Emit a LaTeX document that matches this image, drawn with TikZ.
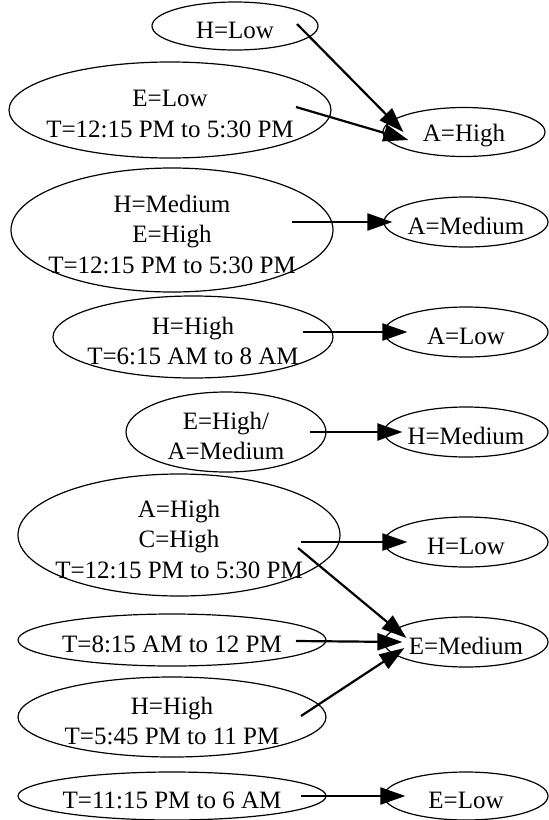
\documentclass[tikz,border=0pt]{standalone}
\usepackage{fontspec}
\setmainfont{Liberation Serif}
\usetikzlibrary{arrows.meta,shapes.geometric,calc}

\tikzset{
  state/.style={draw, ellipse, line width=1.2pt, inner sep=0pt},
  txt/.style={align=center, inner sep=0pt, font=\fontsize{25}{30.5}\selectfont, yshift=-4pt},
  edge/.style={line width=2.2pt, -{Triangle[length=25pt,width=17pt]}},
}

\begin{document}
\begin{tikzpicture}[x=1pt,y=-1pt]
    \useasboundingbox (0,0) rectangle (549,820);

    % nodes (conditions)
    \node[state, minimum width=166, minimum height=48, label={[txt]center:H=Low}] (hlow) at (235,26) {};
    \node[state, minimum width=322, minimum height=96, label={[txt]center:E=Low\\T=12:15 PM to 5:30 PM}] (elow) at (170,110) {};
    \node[state, minimum width=322, minimum height=124, label={[txt]center:H=Medium\\E=High\\T=12:15 PM to 5:30 PM}] (hmedium) at (172,230) {};
    \node[state, minimum width=280, minimum height=82, label={[txt]center:H=High\\T=6:15 AM to 8 AM}] (hhigh) at (193,337) {};
    \node[state, minimum width=200, minimum height=80, label={[txt]center:E=High/\\A=Medium}] (ehigh) at (226,432) {};
    \node[state, minimum width=322, minimum height=122, label={[txt]center:A=High\\C=High\\T=12:15 PM to 5:30 PM}] (achigh) at (179,535) {};
    \node[state, minimum width=308, minimum height=52, label={[txt]center:T=8:15 AM to 12 PM}] (tmorning) at (172,640) {};
    \node[state, minimum width=308, minimum height=80, label={[txt]center:H=High\\T=5:45 PM to 11 PM}] (hhighlate) at (172,717) {};
    \node[state, minimum width=308, minimum height=48, label={[txt]center:T=11:15 PM to 6 AM}] (tnight) at (172,796) {};

    % nodes (results)
    \node[state, minimum width=162, minimum height=49, label={[txt]center:A=High}] (rahigh) at (464,132) {};
    \node[state, minimum width=164, minimum height=50, label={[txt]center:A=Medium}] (ramedium) at (466,222) {};
    \node[state, minimum width=164, minimum height=50, label={[txt]center:A=Low}] (ralow) at (466,332) {};
    \node[state, minimum width=164, minimum height=50, label={[txt]center:H=Medium}] (rhmedium) at (466,432) {};
    \node[state, minimum width=164, minimum height=50, label={[txt]center:H=Low}] (rhlow) at (466,542) {};
    \node[state, minimum width=164, minimum height=50, label={[txt]center:E=Medium}] (remedium) at (466,642) {};
    \node[state, minimum width=164, minimum height=48, label={[txt]center:E=Low}] (relow) at (466,796) {};

    % edges
    \draw[edge] ($(hlow)+(62,-2)$) -- ($(rahigh.west)+(21,0)$); % H=Low -> A=High
    \draw[edge] ($(elow)+(126,-3)$) -- ($(rahigh.west)+(26,8)$); % E=Low -> A=High
    \draw[edge] ($(hmedium)+(120,-8)$) -- ($(ramedium.west)+(9,0)$); % -> A=Medium
    \draw[edge] ($(hhigh)+(110,-5)$) -- ($(ralow.west)+(24,0)$); % -> A=Low
    \draw[edge] ($(ehigh)+(84,0)$) -- ($(rhmedium.west)+(19,0)$); % -> H=Medium
    \draw[edge] ($(achigh)+(122,7)$) -- ($(rhlow.west)+(24,0)$); % -> H=Low
    \draw[edge] ($(achigh)+(119,13)$) -- ($(remedium.west)+(23,-4)$); % -> E=Medium
    \draw[edge] ($(tmorning)+(124,1)$) -- ($(remedium.west)+(19,0)$); % -> E=Medium
    \draw[edge] ($(hhighlate)+(129,-1)$) -- ($(remedium.west)+(21,6)$); % -> E=Medium
    \draw[edge] ($(tnight)+(129,0)$) -- ($(relow.west)+(22,0)$); % -> E=Low

\end{tikzpicture}
\end{document}
